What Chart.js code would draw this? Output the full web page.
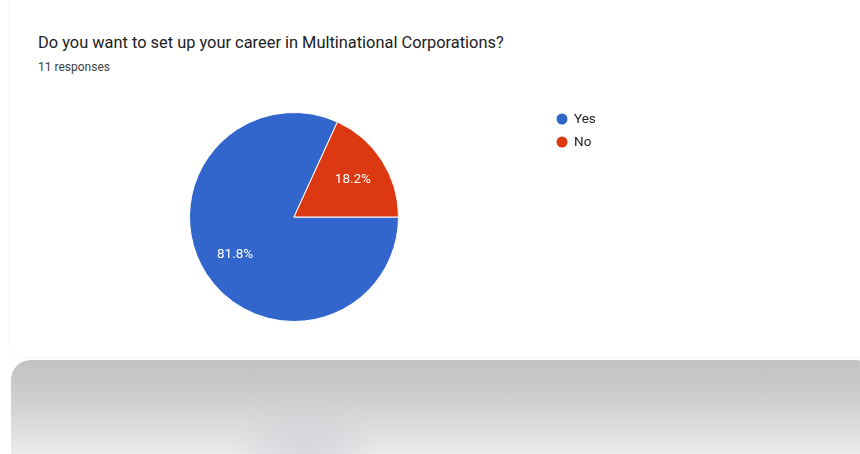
<!DOCTYPE html>
<html>
<head>
<meta charset="utf-8">
<script src="https://cdn.jsdelivr.net/npm/chart.js@4"></script>
<style>
  html, body { margin: 0; padding: 0; background: #fff; }
  body { width: 860px; height: 454px; position: relative; overflow: hidden; font-family: Roboto, "Noto Sans", sans-serif; }
  #card { position: absolute; left: 8px; top: -20px; width: 870px; height: 376px; border-radius: 18px;
          border: 1px solid #f8f8f8; background: #fff; }
  #title { position: absolute; left: 38px; top: 33px; font-size: 16.4px; color: #202124; white-space: nowrap; }
  #sub { position: absolute; left: 38px; top: 60px; font-size: 12px; color: #3c4043; white-space: nowrap; }
  #next { position: absolute; left: 11px; top: 360px; width: 860px; height: 120px; border-radius: 20px 16px 0 0;
          background: linear-gradient(to bottom, #c2c2c2 0%, #cbcbcb 25%, #d9d9d9 50%, #ececec 80%, #f6f6f6 100%); overflow: hidden; }
  #blob { position: absolute; left: 228px; top: 40px; width: 134px; height: 100px; border-radius: 50%;
          background: radial-gradient(ellipse at center, rgba(200,202,214,0.55) 0%, rgba(205,207,215,0.3) 50%, rgba(210,210,215,0) 75%);
          filter: blur(5px); }
  canvas { position: absolute; left: 0; top: 0; }
</style>
</head>
<body>
<div id="card"></div>
<div id="next"><div id="blob"></div></div>
<div id="title">Do you want to set up your career in Multinational Corporations?</div>
<div id="sub">11 responses</div>
<canvas id="c" width="860" height="454"></canvas>
<script>
// Survey answers
const answers = ['Yes', 'No'];
const responseCounts = [9, 2];
const sliceColors = ['#3366cc', '#dc3912'];

// Percentage text inside each slice
const sliceLabels = {
  id: 'sliceLabels',
  afterDatasetsDraw(chart) {
    const ctx = chart.ctx;
    const data = chart.data.datasets[0].data;
    const total = data.reduce((a, b) => a + b, 0);
    const meta = chart.getDatasetMeta(0);
    ctx.save();
    ctx.font = '13.5px Roboto, sans-serif';
    ctx.fillStyle = '#ffffff';
    ctx.textAlign = 'center';
    ctx.textBaseline = 'middle';
    meta.data.forEach((arc, i) => {
      const p = arc.getProps(['x', 'y', 'startAngle', 'endAngle', 'outerRadius'], true);
      const mid = (p.startAngle + p.endAngle) / 2;
      const r = p.outerRadius * 0.67;
      const txt = (data[i] / total * 100).toFixed(1) + '%';
      ctx.fillText(txt, p.x + Math.cos(mid) * r, p.y + Math.sin(mid) * r);
    });
    ctx.restore();
  }
};

// Legend with round markers to the right of the pie
const dotLegend = {
  id: 'dotLegend',
  afterDraw(chart) {
    const ctx = chart.ctx;
    const ds = chart.data.datasets[0];
    const x0 = 562, y0 = 119, step = 23;
    ctx.save();
    ctx.font = '13.5px Roboto, sans-serif';
    ctx.textBaseline = 'middle';
    ctx.textAlign = 'left';
    chart.data.labels.forEach((lab, i) => {
      const y = y0 + i * step;
      ctx.beginPath();
      ctx.arc(x0, y, 5.5, 0, Math.PI * 2);
      ctx.fillStyle = ds.backgroundColor[i];
      ctx.fill();
      ctx.fillStyle = '#222222';
      ctx.fillText(lab, x0 + 12, y + 0.5);
    });
    ctx.restore();
  }
};

new Chart(document.getElementById('c'), {
  type: 'pie',
  data: {
    labels: answers,
    datasets: [{
      data: responseCounts,
      backgroundColor: sliceColors,
      borderColor: '#ffffff',
      borderWidth: 1
    }]
  },
  options: {
    responsive: false,
    animation: false,
    rotation: 90,
    layout: { padding: { left: 189, right: 461, top: 112, bottom: 132 } },
    plugins: {
      legend: { display: false },
      tooltip: { enabled: false }
    }
  },
  plugins: [sliceLabels, dotLegend]
});
</script>
</body>
</html>
